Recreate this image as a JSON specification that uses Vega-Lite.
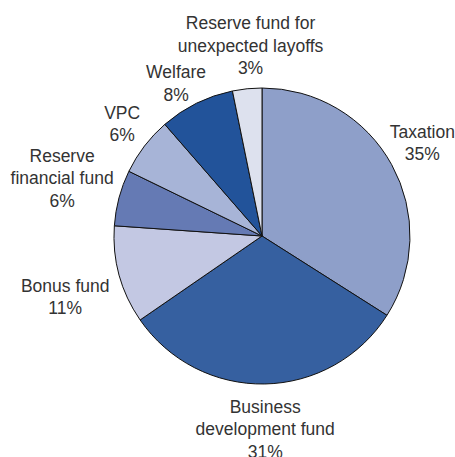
{
  "$schema": "https://vega.github.io/schema/vega-lite/v6.json",
  "width": 386,
  "height": 400,
  "autosize": {"type": "none"},
  "padding": {"left": 69, "top": 36, "right": 0, "bottom": 21},
  "background": "white",
  "config": {
    "view": {"stroke": null},
    "text": {"font": "Liberation Sans, Arial, sans-serif", "fontSize": 17.5, "lineHeight": 22.5, "lineBreak": "\n", "fill": "#333333", "align": "center", "baseline": "middle"}
  },
  "data": {
    "values": [
      {"category": "Taxation", "value": 34.0, "order": 1, "label": "Taxation\n35%"},
      {"category": "Business development fund", "value": 31.4, "order": 2, "label": "Business\ndevelopment fund\n31%"},
      {"category": "Bonus fund", "value": 10.7, "order": 3, "label": "Bonus fund\n11%"},
      {"category": "Reserve financial fund", "value": 6.1, "order": 4, "label": "Reserve\nfinancial fund\n6%"},
      {"category": "VPC", "value": 6.4, "order": 5, "label": "VPC\n6%"},
      {"category": "Welfare", "value": 8.2, "order": 6, "label": "Welfare\n8%"},
      {"category": "Reserve fund for unexpected layoffs", "value": 3.2, "order": 7, "label": "Reserve fund for\nunexpected layoffs\n3%"}
    ]
  },
  "encoding": {
    "theta": {"field": "value", "type": "quantitative", "stack": true},
    "order": {"field": "order", "type": "quantitative"}
  },
  "layer": [
    {
      "mark": {"type": "arc", "outerRadius": 148, "stroke": "#111111", "strokeWidth": 1},
      "encoding": {
        "color": {
          "field": "category",
          "type": "nominal",
          "legend": null,
          "scale": {
            "domain": ["Taxation", "Business development fund", "Bonus fund", "Reserve financial fund", "VPC", "Welfare", "Reserve fund for unexpected layoffs"],
            "range": ["#8e9fc9", "#3660a0", "#c3c8e3", "#657ab4", "#a7b4d7", "#22539a", "#dde1ee"]
          }
        }
      }
    },
    {
      "mark": {"type": "text", "radius": 191, "dx": -7, "dy": -11},
      "encoding": {"text": {"condition": {"test": "datum.category === 'Taxation'", "field": "label"}, "value": ""}}
    },
    {
      "mark": {"type": "text", "radius": 169, "dx": 0, "dy": 3},
      "encoding": {"text": {"condition": {"test": "datum.category === 'Business development fund'", "field": "label"}, "value": ""}}
    },
    {
      "mark": {"type": "text", "radius": 203, "dx": -1, "dy": -3},
      "encoding": {"text": {"condition": {"test": "datum.category === 'Bonus fund'", "field": "label"}, "value": ""}}
    },
    {
      "mark": {"type": "text", "radius": 210, "dx": 3, "dy": -25},
      "encoding": {"text": {"condition": {"test": "datum.category === 'Reserve financial fund'", "field": "label"}, "value": ""}}
    },
    {
      "mark": {"type": "text", "radius": 185, "dx": 7, "dy": -10},
      "encoding": {"text": {"condition": {"test": "datum.category === 'VPC'", "field": "label"}, "value": ""}}
    },
    {
      "mark": {"type": "text", "radius": 185, "dx": -4, "dy": 3},
      "encoding": {"text": {"condition": {"test": "datum.category === 'Welfare'", "field": "label"}, "value": ""}}
    },
    {
      "mark": {"type": "text", "radius": 214, "dx": 10, "dy": 1},
      "encoding": {"text": {"condition": {"test": "datum.category === 'Reserve fund for unexpected layoffs'", "field": "label"}, "value": ""}}
    }
  ]
}
